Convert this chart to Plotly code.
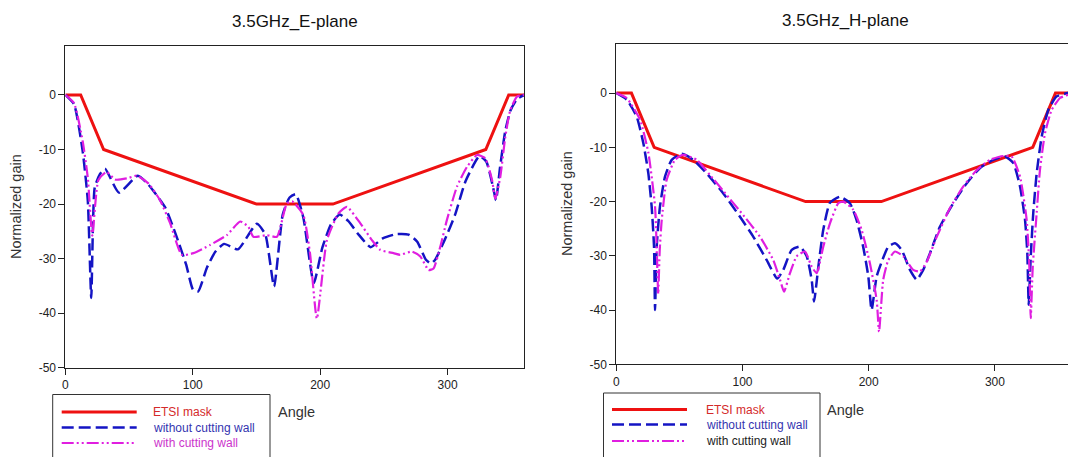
import plotly.graph_objects as go

# ---------------- data ----------------
MASK_ANGLE = [0, 12, 30, 150, 210, 330, 348, 360]
MASK_GAIN = [0, 0, -10, -20, -20, -10, 0, 0]

E_BLUE_ANGLE = [0, 6.8, 13.5, 17.6, 20.3, 23, 27.1, 31.1, 42, 56.9, 65, 78.5, 86.7, 94.8, 100.2,
                104.3, 111, 117.8, 124.6, 135.4, 150.3, 157, 163.8, 170.6, 176, 180.9, 186.8, 195,
                201.7, 208.5, 215.3, 222, 230.2, 239.6, 249.1, 260, 269.4, 276.2, 283, 287, 290.3,
                297.9, 306, 314.1, 325, 330.4, 335.8, 338, 341.2, 345.3, 349.3, 354.7, 360]
E_BLUE_GAIN = [0, -1.7, -10.2, -19.4, -37.2, -17, -14.5, -13.5, -17.9, -14.8, -16.4, -20.7, -25.6,
               -31.1, -35.7, -36, -31.7, -28.7, -27.3, -28.3, -23.6, -25.6, -35.1, -21.9, -18.8,
               -18.2, -22.5, -34.5, -28, -23.7, -21.9, -23.1, -25.6, -27.9, -26.3, -25.5, -25.6,
               -26.9, -30.2, -30.9, -30.2, -26.5, -21.9, -15.8, -11.2, -12.2, -17, -19.3, -13.3,
               -6.6, -2.9, -0.7, 0]

E_MAG_ANGLE = [0, 6.8, 13.5, 17.6, 21.1, 25.9, 32.4, 39, 48.2, 56, 65.1, 74.3, 82.2, 91.4, 100.5,
               113.6, 126.7, 137.2, 143.7, 147.6, 158.1, 166, 173.8, 178, 186.8, 192, 197.4, 205.3,
               214.4, 221, 231.4, 240.6, 247.1, 257.6, 262.8, 272, 278.6, 285.1, 289, 294.3, 299.5,
               307.4, 315.2, 323.1, 329.6, 334.9, 337.5, 341.4, 345.3, 349.2, 354.5, 360]
E_MAG_GAIN = [0, -1.5, -8.4, -15.2, -25.8, -15.6, -14.1, -15.5, -15.3, -14.8, -16.2, -19.3, -23.5,
              -29.3, -29, -27.5, -25.7, -23.2, -24.2, -26, -25.7, -26, -19.9, -19.5, -22, -29,
              -41, -26.6, -21.7, -20.5, -23.5, -26.6, -28.4, -29, -29.3, -28.7, -29.6, -32.1,
              -31.8, -27.8, -22.9, -16.8, -13.2, -11, -11.6, -15.6, -19, -15, -7.7, -2.8, -0.3, 0]

H_BLUE_ANGLE = [0, 8.2, 16.1, 21.4, 25.4, 28, 29.9, 30.7, 32, 34.6, 38.6, 43.9, 51.8, 61, 71.6,
                84.8, 98, 108.6, 119.2, 127.5, 132.3, 139, 145.6, 150.9, 154.8, 156.7, 160.1, 164,
                169.3, 177.2, 185.1, 190.4, 195.6, 199.7, 202.3, 206.3, 210.3, 215.5, 220.8, 226.1,
                232.7, 238, 243.2, 248.6, 256.5, 267, 277.7, 288.2, 298.7, 308, 314.6, 319.9, 323.9,
                325.7, 326.8, 328.4, 330.4, 333.1, 337.1, 342.3, 349, 357.9, 360]
H_BLUE_GAIN = [0, -1.2, -4.3, -9.2, -14.8, -20.9, -28.3, -40, -28.3, -20.9, -15.4, -12.3, -11.2,
               -12.3, -14.8, -18.5, -22.8, -26.5, -30.8, -34.2, -32.6, -28.9, -28.3, -30.1, -34.4,
               -38.4, -32, -25.2, -20.2, -19.1, -20.3, -23.4, -28.3, -33.8, -40, -33.8, -31.1,
               -28.3, -27.7, -28.9, -32.6, -34.4, -32.6, -29.5, -24.6, -20.3, -16.6, -13.8, -12.3,
               -11.7, -12.9, -17.2, -23.4, -29.5, -39, -30.1, -22.1, -14.8, -8, -3.1, -0.6, 0, 0]

H_MAG_ANGLE = [0, 8.2, 18.8, 25.4, 30.7, 32.2, 33.2, 34.4, 36, 39.9, 46.5, 53.1, 63.7, 74.2, 87.5,
               100.6, 113.9, 124.4, 129.7, 132.9, 137.6, 142.9, 149.5, 154.8, 158.8, 164, 169.3,
               175.9, 179.9, 187.8, 194.4, 201, 206.3, 208.2, 211.5, 215.5, 220.8, 227.4, 235.3,
               240.6, 246, 253.9, 264.4, 275, 285.6, 296.1, 306.7, 313.3, 319.9, 325.2, 327.3,
               328.4, 330, 333.1, 335.7, 339.7, 345, 351.6, 357.9, 360]
H_MAG_GAIN = [0, -0.9, -4.9, -11, -20.9, -30, -37, -29, -23.4, -16, -12.3, -11.4, -12.3, -15.1,
              -18.8, -22.5, -26.5, -30.8, -34.4, -36.6, -33.2, -30.1, -29.2, -32, -33.2, -28.3,
              -24, -20.3, -20, -21.5, -25.2, -31.4, -38.1, -44, -34.4, -30.8, -29.2, -30.1, -32.6,
              -32.9, -31.1, -26.5, -21.2, -17.2, -14.2, -12.3, -11.6, -11.7, -15.4, -23.4, -32,
              -41.5, -32, -22.1, -14.2, -7.4, -3.1, -0.9, -0.3, 0]

Y_TICKS = [0, -10, -20, -30, -40, -50]
Y_TICK_TEXT = ["0", "-10", "-20", "-30", "-40", "-50"]
X_TICKS = [0, 100, 200, 300]
X_TICK_TEXT = ["0", "100", "200", "300"]

TITLES = ["3.5GHz_E-plane", "3.5GHz_H-plane"]
SERIES_NAMES = ["ETSI mask", "without cutting wall", "with cutting wall"]
Y_TITLE = "Normalized gain"
X_TITLE = "Angle"

# ---------------- styles ----------------
W, H = 1068, 457
RED = "#ee1111"
BLUE = "#1414c4"
MAG = "#e01ee0"
BLUE_DASH = "12px,5px"
MAG_DASH = "12px,3px,2px,3px,2px,3px"
FONT = "Liberation Sans, Arial, sans-serif"


def px(x):
    return x / W


def py(y):
    return 1 - y / H


fig = go.Figure()

panels = [
    dict(xa="x", ya="y", blue=(E_BLUE_ANGLE, E_BLUE_GAIN), mag=(E_MAG_ANGLE, E_MAG_GAIN)),
    dict(xa="x2", ya="y2", blue=(H_BLUE_ANGLE, H_BLUE_GAIN), mag=(H_MAG_ANGLE, H_MAG_GAIN)),
]
for p in panels:
    fig.add_trace(go.Scatter(x=MASK_ANGLE, y=MASK_GAIN, mode="lines", xaxis=p["xa"], yaxis=p["ya"],
                             line=dict(color=RED, width=3), name=SERIES_NAMES[0]))
    fig.add_trace(go.Scatter(x=p["blue"][0], y=p["blue"][1], mode="lines", xaxis=p["xa"], yaxis=p["ya"],
                             line=dict(color=BLUE, width=2.5, dash=BLUE_DASH, shape="spline", smoothing=0.5),
                             name=SERIES_NAMES[1]))
    fig.add_trace(go.Scatter(x=p["mag"][0], y=p["mag"][1], mode="lines", xaxis=p["xa"], yaxis=p["ya"],
                             line=dict(color=MAG, width=2.2, dash=MAG_DASH, shape="spline", smoothing=0.5),
                             name=SERIES_NAMES[2]))

axis_common = dict(showgrid=False, zeroline=False, showline=True, linecolor="#222", linewidth=1,
                   ticks="outside", ticklen=6, tickcolor="#222", tickwidth=1,
                   tickfont=dict(family=FONT, size=12, color="#222"), automargin=False)

# left panel geometry (pixels)
L = dict(x0=65.4, x1=524.0, y0=45.9, y1=367.7)
R = dict(x0=616.3, x1=1068.0, y0=44.3, y1=364.3)
R_XMAX = (R["x1"] - R["x0"]) / 1.262

fig.update_layout(
    width=W, height=H, margin=dict(l=0, r=0, t=0, b=0, autoexpand=False),
    paper_bgcolor="white", plot_bgcolor="white", showlegend=False,
    xaxis=dict(domain=[px(L["x0"]), px(L["x1"])], range=[0, 360], tickvals=X_TICKS, ticktext=X_TICK_TEXT,
               mirror=True, anchor="y", **axis_common),
    yaxis=dict(domain=[py(L["y1"]), py(L["y0"])], range=[-50, 9], tickvals=Y_TICKS, ticktext=Y_TICK_TEXT,
               mirror=True, anchor="x", **axis_common),
    xaxis2=dict(domain=[px(R["x0"]), 1.0], range=[0, R_XMAX], tickvals=X_TICKS, ticktext=X_TICK_TEXT,
                mirror=True, anchor="y2", **axis_common),
    yaxis2=dict(domain=[py(R["y1"]), py(R["y0"])], range=[-50, 9], tickvals=Y_TICKS, ticktext=Y_TICK_TEXT,
                mirror=False, anchor="x2", **axis_common),
)

annotations = []
shapes = []

# titles and axis labels
for title, cx, cy in [(TITLES[0], 295, 21.5), (TITLES[1], 845, 21)]:
    annotations.append(dict(text=title, x=px(cx), y=py(cy), xref="paper", yref="paper", showarrow=False,
                            xanchor="center", yanchor="middle", font=dict(family=FONT, size=17, color="#111")))
for cx, cy in [(15.5, 206.5), (567, 204)]:
    annotations.append(dict(text=Y_TITLE, x=px(cx), y=py(cy), xref="paper", yref="paper", showarrow=False,
                            textangle=-90, xanchor="center", yanchor="middle",
                            font=dict(family=FONT, size=14.5, color="#333")))

# legends (manual boxes, clipped by the window bottom like the reference)
legends = [
    dict(box=(52.7, 394.5, 270.0), rows=(412, 427.5, 443), line=(61.7, 136.7), tx=151, angle=(276, 412),
         colors=("#d42a2a", "#3434b0", "#cc33cc")),
    dict(box=(603.5, 393.0, 820.0), rows=(409.5, 424.5, 441), line=(612, 687), tx=703.5, angle=(825, 409.5),
         colors=("#d42a2a", "#3434b0", "#222222")),
]
for lg in legends:
    bx0, by0, bx1 = lg["box"]
    shapes.append(dict(type="rect", xref="paper", yref="paper", x0=px(bx0), x1=px(bx1), y0=py(by0), y1=py(480),
                       line=dict(color="#333", width=1), fillcolor="white", layer="above"))
    styles = [dict(color=RED, width=3, dash="solid"), dict(color=BLUE, width=2.5, dash=BLUE_DASH),
              dict(color=MAG, width=2.2, dash=MAG_DASH)]
    for name, ry, st, col in zip(SERIES_NAMES, lg["rows"], styles, lg["colors"]):
        shapes.append(dict(type="line", xref="paper", yref="paper", x0=px(lg["line"][0]), x1=px(lg["line"][1]),
                           y0=py(ry), y1=py(ry), line=st, layer="above"))
        annotations.append(dict(text=name, x=px(lg["tx"]), y=py(ry), xref="paper", yref="paper", showarrow=False,
                                xanchor="left", yanchor="middle", font=dict(family=FONT, size=12, color=col)))
    annotations.append(dict(text=X_TITLE, x=px(lg["angle"][0]), y=py(lg["angle"][1]), xref="paper", yref="paper",
                            showarrow=False, xanchor="left", yanchor="middle",
                            font=dict(family=FONT, size=14.5, color="#333")))

fig.update_layout(annotations=annotations, shapes=shapes)
fig.write_html("out.html")
